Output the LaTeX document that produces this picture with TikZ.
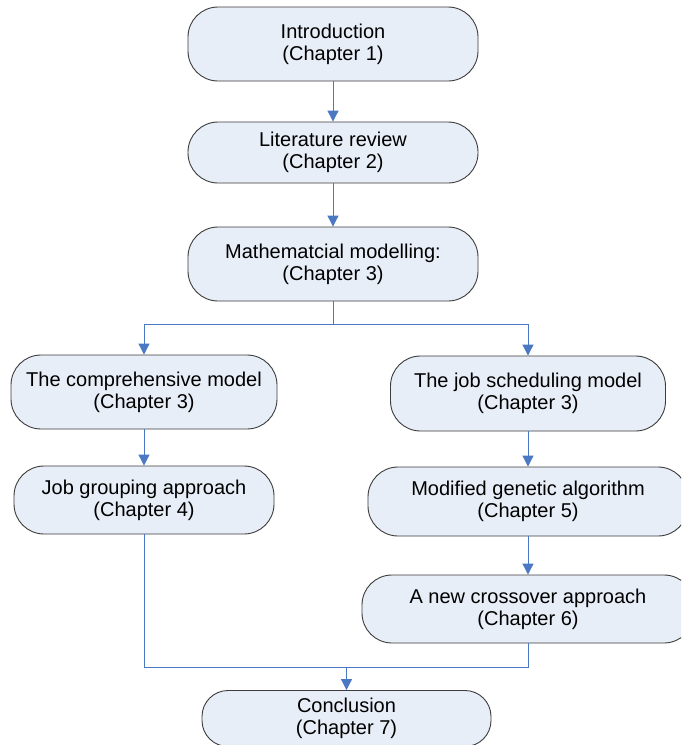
\documentclass[tikz,border=0pt]{standalone}
\usepackage{fontspec}
\setmainfont{Liberation Sans}
\usetikzlibrary{arrows.meta}
\definecolor{boxfill}{HTML}{E8EEF7}
\definecolor{boxline}{HTML}{3C3C3C}
\definecolor{flow}{HTML}{4A78C2}
\tikzset{
  chapbox/.style={draw=boxline, line width=0.9pt, fill=boxfill,
    rounded corners=30pt, align=center, inner sep=0pt,
    font=\fontsize{20}{22}\selectfont},
  flowline/.style={draw=flow, line width=1pt},
  flowarrow/.style={flowline, -{Triangle[length=11pt,width=11pt]}}
}
\begin{document}
\begin{tikzpicture}[x=1pt,y=-1pt]
\clip (0,0) rectangle (681,745);
\fill[white] (0,0) rectangle (681,745);

\node[chapbox, minimum width=290pt, minimum height=74pt] (intro) at (333,44)
  {Introduction\\(Chapter 1)};
\node[chapbox, minimum width=290pt, minimum height=61pt] (lit) at (333,152.5)
  {Literature review\\(Chapter 2)};
\node[chapbox, minimum width=290pt, minimum height=74pt] (math) at (333,264)
  {Mathematcial modelling:\\(Chapter 3)};
\node[chapbox, minimum width=266pt, minimum height=74pt] (comp) at (144,392)
  {The comprehensive model\\(Chapter 3)};
\node[chapbox, minimum width=275pt, minimum height=75pt] (sched) at (528,393.5)
  {The job scheduling model\\(Chapter 3)};
\node[chapbox, minimum width=260pt, minimum height=68pt] (group) at (144,500)
  {Job grouping approach\\(Chapter 4)};
\node[chapbox, minimum width=320pt, minimum height=69pt] (ga) at (528,501.5)
  {Modified genetic algorithm\\(Chapter 5)};
\node[chapbox, minimum width=332pt, minimum height=68pt] (cross) at (528,609)
  {A new crossover approach\\(Chapter 6)};
\node[chapbox, rounded corners=26pt, minimum width=289pt, minimum height=56pt] (concl) at (346.5,718.5)
  {Conclusion\\(Chapter 7)};

\coordinate (split) at (333,324);
\coordinate (merge) at (346.5,667);

\draw[flowarrow] (intro) -- (lit);
\draw[flowarrow] (lit) -- (math);
\draw[flowline] (math) -- (split);
\draw[flowarrow] (split) -| (comp.north);
\draw[flowarrow] (split) -| (sched.north);
\draw[flowarrow] (comp) -- (group);
\draw[flowarrow] (sched) -- (ga);
\draw[flowarrow] (ga) -- (cross);
\draw[flowline] (group.south) |- (merge);
\draw[flowline] (cross.south) |- (merge);
\draw[flowarrow] (merge) -- (concl);
\end{tikzpicture}
\end{document}
